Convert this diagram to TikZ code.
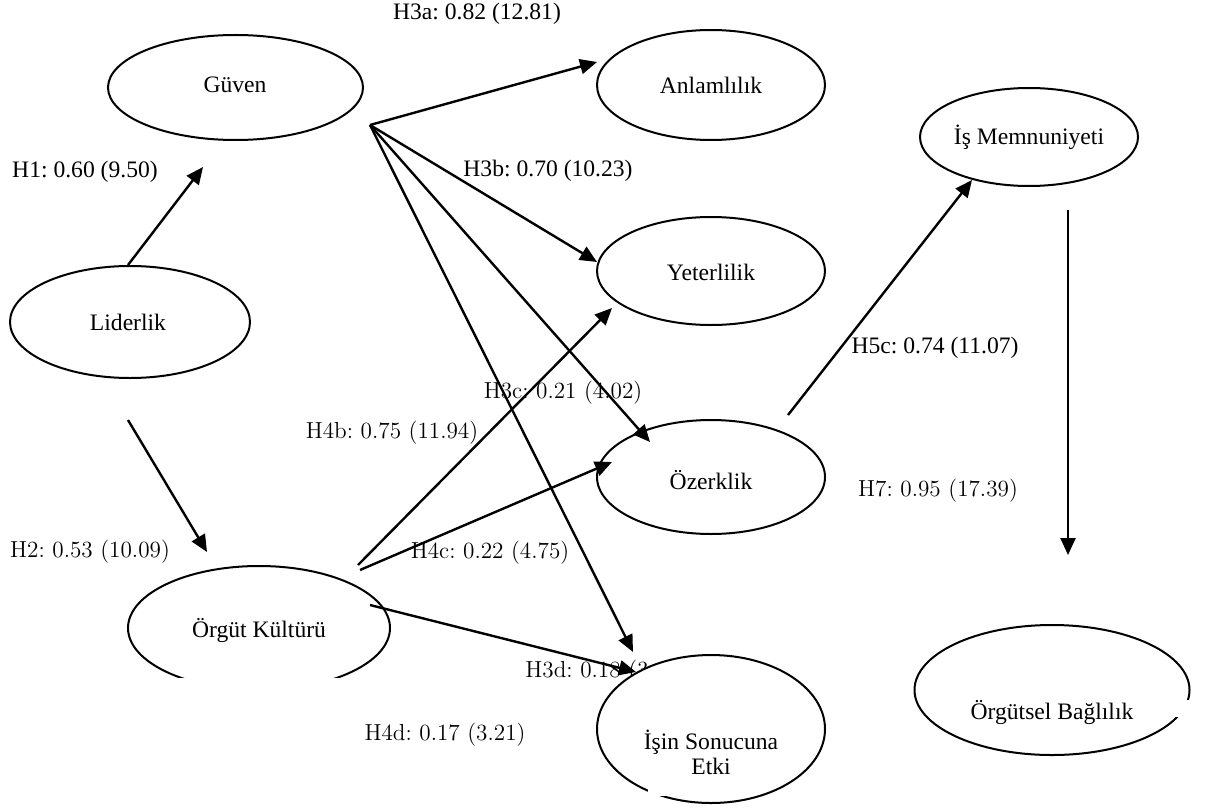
\documentclass[tikz,border=0pt]{standalone}
\usepackage{fontspec}
\setmainfont{Liberation Serif}
\newfontfamily\lmfont{Latin Modern Roman}
\usetikzlibrary{shapes.geometric,arrows.meta}
\frenchspacing
\tikzset{
  ell/.style={draw,ellipse,line width=1pt,fill=white,inner sep=0pt},
  txt/.style={font=\fontsize{11.8}{14}\selectfont,inner sep=0pt,align=center},
  lab/.style={font=\fontsize{11.8}{14}\selectfont,inner sep=0pt},
  labc/.style={font=\lmfont\fontsize{11.6}{14}\selectfont,inner sep=0pt},
  arr/.style={line width=1.2pt,-{Triangle[length=8.5pt,width=7.5pt]}},
  gap/.style={fill=white,draw=none}
}
\begin{document}
\begin{tikzpicture}[x=0.5pt,y=-0.5pt]
\useasboundingbox (0,0) rectangle (1213,808);
% labels that lie under shapes
\node[labc,anchor=west] (h3d) at (525,672) {\frenchspacing H3d: 0.18 (3.};
% ellipses
\node[ell,minimum width=255pt*0.5,minimum height=105pt*0.5] (guven) at (235.5,87.5) {};
\node[ell,minimum width=228pt*0.5,minimum height=110pt*0.5] (anlam) at (711,85) {};
\node[ell,minimum width=218pt*0.5,minimum height=98pt*0.5] (memnun) at (1029,137) {};
\node[ell,minimum width=228pt*0.5,minimum height=108pt*0.5] (yeter) at (711,271) {};
\node[ell,minimum width=240pt*0.5,minimum height=112pt*0.5] (lider) at (130,322) {};
\node[ell,minimum width=228pt*0.5,minimum height=114pt*0.5] (ozerk) at (711,477) {};
\node[ell,minimum width=262pt*0.5,minimum height=124pt*0.5] (orgut) at (259,628) {};
\node[ell,minimum width=228pt*0.5,minimum height=148pt*0.5] (isin) at (711,729) {};
\node[ell,minimum width=275pt*0.5,minimum height=130pt*0.5] (bagli) at (1052,690) {};
% cut-offs of the ellipse outlines
\fill[white] (120,678) rectangle (400,700);
\fill[white] (1158,700) rectangle (1196,717);
\fill[white] (648,786) rectangle (668,796);
% texts in ellipses
\node[txt] (tguven) at (235,85) {Güven};
\node[txt] (tanlam) at (711,85) {Anlamlılık};
\node[txt] (tmemnun) at (1029,137) {İş Memnuniyeti};
\node[txt] (tyeter) at (711,272) {Yeterlilik};
\node[txt] (tlider) at (128,322) {Liderlik};
\node[txt] (tozerk) at (711,480) {Özerklik};
\node[txt] (torgut) at (259,630) {Örgüt Kültürü};
\node[txt] (tisin) at (711,752) {İşin Sonucuna\\[-1.5pt]Etki};
\node[txt] (tbagli) at (1052,712) {Örgütsel Bağlılık};
% connector ends
\coordinate (c1s) at (128,265); \coordinate (c1e) at (203,167);
\coordinate (c2s) at (128,420); \coordinate (c2e) at (207,552);
\coordinate (gs) at (370,125);
\coordinate (c3e) at (597,62);
\coordinate (c4e) at (597,262);
\coordinate (c5e) at (650,442);
\coordinate (c6e) at (633,652);
\coordinate (c7s) at (358,565); \coordinate (c7e) at (612,308);
\coordinate (c8s) at (360,570); \coordinate (c8e) at (612,462);
\coordinate (c9s) at (370,605); \coordinate (c9e) at (636,672);
\coordinate (c10s) at (788,415); \coordinate (c10e) at (972,180);
\coordinate (c11s) at (1068,210); \coordinate (c11e) at (1068,555);
% connectors
\draw[arr] (c1s) -- (c1e);
\draw[arr] (c2s) -- (c2e);
\draw[arr] (gs) -- (c3e);
\draw[arr] (gs) -- (c4e);
\draw[arr] (gs) -- (c5e);
\draw[arr] (gs) -- (c6e);
\draw[arr] (c7s) -- (c7e);
\draw[arr] (c8s) -- (c8e);
\draw[arr] (c9s) -- (c9e);
\draw[arr] (c10s) -- (c10e);
\draw[arr] (c11s) -- (c11e);
% path labels
\node[lab] (h3a) at (477,14) {\frenchspacing H3a: 0.82 (12.81)};
\node[lab] (h1) at (85,172) {\frenchspacing H1: 0.60 (9.50)};
\node[lab] (h3b) at (548,171) {\frenchspacing H3b: 0.70 (10.23)};
\node[lab] (h5c) at (935,348) {\frenchspacing H5c: 0.74 (11.07)};
\node[labc] (h3c) at (563,393) {\frenchspacing H3c: 0.21 (4.02)};
\node[labc] (h4b) at (392,433) {\frenchspacing H4b: 0.75 (11.94)};
\node[labc] (h7) at (938,491) {\frenchspacing H7: 0.95 (17.39)};
\node[labc] (h2) at (90,552) {\frenchspacing H2: 0.53 (10.09)};
\node[labc] (h4c) at (490,553) {\frenchspacing H4c: 0.22 (4.75)};
\node[labc] (h4d) at (445,735) {\frenchspacing H4d: 0.17 (3.21)};
\end{tikzpicture}
\end{document}
